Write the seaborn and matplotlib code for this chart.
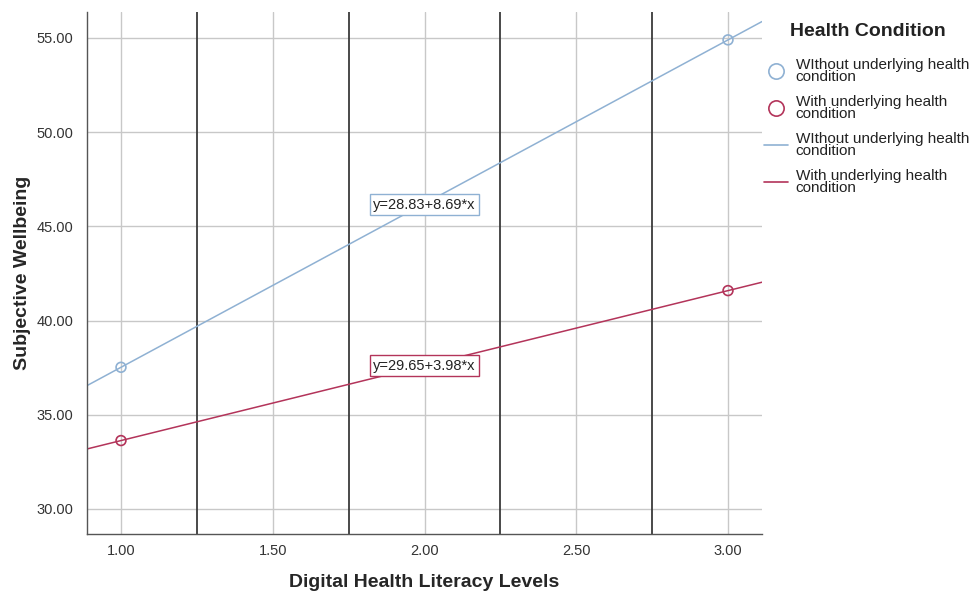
import numpy as np
import pandas as pd
import seaborn as sns
import matplotlib.pyplot as plt
from matplotlib.lines import Line2D

# group means
levels = [1.0, 3.0]
without_means = [37.52, 54.90]
with_means = [33.63, 41.59]

# fit line coefficients (from the on-chart labels)
without_fit = (28.83, 8.69)
with_fit = (29.65, 3.98)

group_labels = ["WIthout underlying health\ncondition", "With underlying health\ncondition"]
colors = ["#8fb1d3", "#b3345a"]

x_ticks = [1.0, 1.5, 2.0, 2.5, 3.0]
y_ticks = [30, 35, 40, 45, 50, 55]
bin_edges = [1.25, 1.75, 2.25, 2.75]
x_lim = (0.888, 3.112)
y_lim = (28.67, 56.38)


def main() -> None:
    sns.set_theme(style="white")
    plt.rcParams["font.family"] = ["Liberation Sans", "DejaVu Sans"]

    points = pd.DataFrame(
        {
            "level": levels * 2,
            "wellbeing": without_means + with_means,
            "group": [group_labels[0]] * 2 + [group_labels[1]] * 2,
        }
    )
    xs = np.array(x_lim)
    fits = pd.DataFrame(
        {
            "level": list(xs) * 2,
            "wellbeing": list(without_fit[0] + without_fit[1] * xs) + list(with_fit[0] + with_fit[1] * xs),
            "group": [group_labels[0]] * 2 + [group_labels[1]] * 2,
        }
    )

    fig = plt.figure(figsize=(9.73, 5.95), dpi=100)
    ax = fig.add_axes([87 / 973, 61 / 595, 675 / 973, 522 / 595])

    for xv in x_ticks:
        ax.axvline(xv, color="#c8c8c8", lw=1, zorder=0)
    for yv in y_ticks:
        ax.axhline(yv, color="#c8c8c8", lw=1, zorder=0)
    for xv in bin_edges:
        ax.axvline(xv, color="#3a3a3a", lw=1.3, zorder=1)

    palette = dict(zip(group_labels, colors))
    sns.lineplot(data=fits, x="level", y="wellbeing", hue="group", palette=palette,
                 lw=1.1, legend=False, ax=ax, zorder=2)
    sns.scatterplot(data=points, x="level", y="wellbeing", hue="group", palette=palette,
                    legend=False, ax=ax, s=50, zorder=3)
    # open markers: take the hue colour for the edge, leave the face empty
    for coll in ax.collections:
        fc = coll.get_facecolors()
        coll.set_edgecolors(fc)
        coll.set_facecolors("none")
        coll.set_linewidth(1.2)

    ax.text(2.0, 46.15, "y=28.83+8.69*x", ha="center", va="center", fontsize=10.5, color="#222222",
            bbox=dict(boxstyle="square,pad=0.25", fc="white", ec=colors[0], lw=1), zorder=4)
    ax.text(2.0, 37.6, "y=29.65+3.98*x", ha="center", va="center", fontsize=10.5, color="#222222",
            bbox=dict(boxstyle="square,pad=0.25", fc="white", ec=colors[1], lw=1), zorder=4)

    ax.set_xlim(*x_lim)
    ax.set_ylim(*y_lim)
    ax.set_xticks(x_ticks)
    ax.set_xticklabels([f"{v:.2f}" for v in x_ticks], fontsize=10.5, color="#333333")
    ax.set_yticks(y_ticks)
    ax.set_yticklabels([f"{v:.2f}" for v in y_ticks], fontsize=10.5, color="#333333")
    ax.tick_params(axis="x", length=0, pad=7)
    ax.tick_params(axis="y", length=0, pad=10)
    ax.set_xlabel("Digital Health Literacy Levels", fontsize=14, fontweight="bold", labelpad=12)
    ax.set_ylabel("Subjective Wellbeing", fontsize=14, fontweight="bold", labelpad=4)

    sns.despine(ax=ax, top=True, right=True)
    for side in ["left", "bottom"]:
        ax.spines[side].set_color("#555555")
        ax.spines[side].set_linewidth(1)

    fig.text(790 / 973, 1 - 31 / 595, "Health Condition", fontsize=14, fontweight="bold",
             color="#222222", ha="left", va="center")

    handles = [
        Line2D([], [], marker="o", ls="none", mfc="none", mec=colors[0], ms=11, mew=1.2),
        Line2D([], [], marker="o", ls="none", mfc="none", mec=colors[1], ms=11, mew=1.2),
        Line2D([], [], color=colors[0], lw=1.2),
        Line2D([], [], color=colors[1], lw=1.2),
    ]
    leg = fig.legend(handles, group_labels * 2, loc="upper left", bbox_to_anchor=(759 / 973, 1 - 53 / 595),
                     frameon=False, fontsize=11, handlelength=1.6,
                     handletextpad=0.5, labelspacing=0.7, borderaxespad=0, borderpad=0.3)
    for t in leg.get_texts():
        t.set_linespacing(0.85)
        t.set_color("#222222")

    fig.savefig("out.png", dpi=100)
    plt.close(fig)


if __name__ == "__main__":
    main()
